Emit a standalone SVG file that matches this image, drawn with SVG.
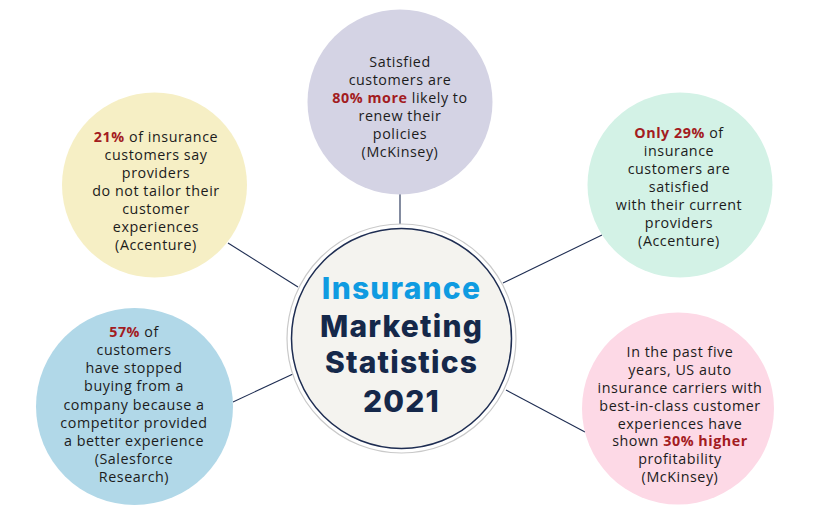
<svg xmlns="http://www.w3.org/2000/svg" width="825" height="522" viewBox="0 0 825 522">
<style>
.t{font-family:"Open Sans","Liberation Sans",sans-serif;font-size:14.3px;letter-spacing:0.55px;fill:#1c1c1c;text-anchor:middle}
.r{fill:#a31c1f;font-weight:700}
.h{font-family:Inter,"Liberation Sans",sans-serif;font-weight:800;font-size:30px;letter-spacing:1.2px;text-anchor:middle;fill:#15284a}
.c{stroke:#1e2d52;stroke-width:1.1;fill:none}
</style>
<rect width="825" height="522" fill="#ffffff"/>
<g id="connectors" class="c">
<line x1="400" y1="194" x2="400" y2="224"/>
<line x1="228" y1="243" x2="298" y2="287"/>
<line x1="602" y1="235" x2="503" y2="283"/>
<line x1="233" y1="402" x2="293" y2="374"/>
<line x1="585" y1="432" x2="506" y2="390"/>
</g>
<g id="top">
<circle cx="400" cy="102" r="92.5" fill="#d4d3e4"/>
<text class="t" x="400" y="67">Satisfied</text>
<text class="t" x="400" y="85">customers are</text>
<text class="t" x="400" y="103"><tspan class="r">80% more</tspan> likely to</text>
<text class="t" x="400" y="121">renew their</text>
<text class="t" x="400" y="139">policies</text>
<text class="t" x="400" y="157">(McKinsey)</text>
</g>
<g id="left-top">
<circle cx="154.5" cy="185" r="92.5" fill="#f6efc5"/>
<text class="t" x="156" y="142"><tspan class="r">21%</tspan> of insurance</text>
<text class="t" x="156" y="160">customers say</text>
<text class="t" x="156" y="178">providers</text>
<text class="t" x="156" y="196">do not tailor their</text>
<text class="t" x="156" y="214">customer</text>
<text class="t" x="156" y="232">experiences</text>
<text class="t" x="156" y="250">(Accenture)</text>
</g>
<g id="right-top">
<circle cx="680" cy="185" r="92.5" fill="#d3f2e6"/>
<text class="t" x="679" y="138"><tspan class="r">Only 29%</tspan> of</text>
<text class="t" x="679" y="156">insurance</text>
<text class="t" x="679" y="174">customers are</text>
<text class="t" x="679" y="192">satisfied</text>
<text class="t" x="679" y="210">with their current</text>
<text class="t" x="679" y="228">providers</text>
<text class="t" x="679" y="246">(Accenture)</text>
</g>
<g id="left-bottom">
<circle cx="134.5" cy="406.5" r="98.5" fill="#b1d8e8"/>
<text class="t" x="134" y="337"><tspan class="r">57%</tspan> of</text>
<text class="t" x="134" y="355">customers</text>
<text class="t" x="134" y="373">have stopped</text>
<text class="t" x="134" y="391">buying from a</text>
<text class="t" x="134" y="409.5">company because a</text>
<text class="t" x="134" y="427.5">competitor provided</text>
<text class="t" x="134" y="445.5">a better experience</text>
<text class="t" x="134" y="463.5">(Salesforce</text>
<text class="t" x="134" y="482">Research)</text>
</g>
<g id="right-bottom">
<circle cx="678" cy="408.5" r="96" fill="#fdd9e6"/>
<text class="t" x="680" y="357">In the past five</text>
<text class="t" x="680" y="375">years, US auto</text>
<text class="t" x="680" y="392.5">insurance carriers with</text>
<text class="t" x="680" y="410.5">best-in-class customer</text>
<text class="t" x="680" y="428.5">experiences have</text>
<text class="t" x="680" y="446">shown <tspan class="r">30% higher</tspan></text>
<text class="t" x="680" y="464">profitability</text>
<text class="t" x="680" y="482">(McKinsey)</text>
</g>
<g id="center">
<circle cx="401.5" cy="338.5" r="114.5" fill="#ffffff" stroke="#c9c9c9" stroke-width="1.2"/>
<circle cx="401.5" cy="338.5" r="110" fill="#f4f3ef" stroke="#1e2d52" stroke-width="1.5"/>
<text class="h" x="401.5" y="299" style="fill:#0f9be1">Insurance</text>
<text class="h" x="401.5" y="337">Marketing</text>
<text class="h" x="401.5" y="373">Statistics</text>
<text class="h" x="401.5" y="412">2021</text>
</g>
</svg>
